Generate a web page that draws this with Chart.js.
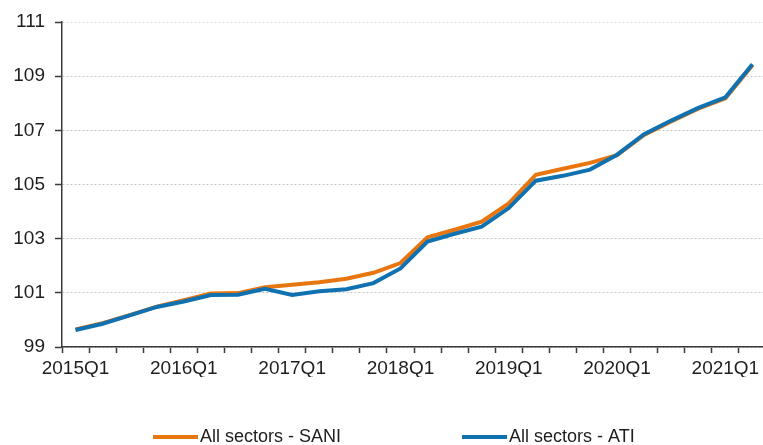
<!DOCTYPE html>
<html>
<head>
<meta charset="utf-8">
<script src="https://cdn.jsdelivr.net/npm/chart.js@4/dist/chart.umd.min.js"></script>
<style>
    html, body { margin: 0; padding: 0; background: #fff; overflow: hidden; }
    #wrap { width: 770px; height: 445px; }
</style>
</head>
<body>
<div id="wrap"><canvas id="indexChart" width="770" height="445"></canvas></div>
<script>
// quarters 2015Q1 .. 2021Q2
const quarters = [
    '2015Q1', '2015Q2', '2015Q3', '2015Q4',
    '2016Q1', '2016Q2', '2016Q3', '2016Q4',
    '2017Q1', '2017Q2', '2017Q3', '2017Q4',
    '2018Q1', '2018Q2', '2018Q3', '2018Q4',
    '2019Q1', '2019Q2', '2019Q3', '2019Q4',
    '2020Q1', '2020Q2', '2020Q3', '2020Q4',
    '2021Q1', '2021Q2'
];

const sani = [
    99.65, 99.88, 100.18, 100.49,
    100.73, 100.98, 100.99, 101.21,
    101.30, 101.39, 101.52, 101.74,
    102.10, 103.05, 103.33, 103.63,
    104.30, 105.36, 105.58, 105.80,
    106.08, 106.83, 107.33, 107.80,
    108.18, 109.40
];

const ati = [
    99.63, 99.86, 100.17, 100.48,
    100.68, 100.92, 100.93, 101.15,
    100.92, 101.06, 101.13, 101.36,
    101.90, 102.89, 103.18, 103.44,
    104.13, 105.14, 105.32, 105.55,
    106.10, 106.86, 107.36, 107.83,
    108.22, 109.44
];

const seriesNames = ['All sectors - SANI', 'All sectors - ATI'];
const yTicks = [99, 101, 103, 105, 107, 109, 111];

const textColor = '#1e1e1e';
const fontFamily = '"Liberation Sans", Arial, sans-serif';

// legend drawn under the plot, items placed like the original
const bottomLegend = {
    id: 'bottomLegend',
    afterDraw(chart) {
        const ctx = chart.ctx;
        const spots = [153, 462];
        const y = 437;
        ctx.save();
        ctx.font = '18px ' + fontFamily;
        ctx.textBaseline = 'middle';
        ctx.textAlign = 'left';
        chart.data.datasets.forEach((ds, i) => {
            const x = spots[i];
            ctx.strokeStyle = ds.borderColor;
            ctx.lineWidth = 4;
            ctx.beginPath();
            ctx.moveTo(x, y);
            ctx.lineTo(x + 45, y);
            ctx.stroke();
            ctx.fillStyle = textColor;
            ctx.fillText(ds.label, x + 47, y);
        });
        ctx.restore();
    }
};

const ctx = document.getElementById('indexChart').getContext('2d');

new Chart(ctx, {
    type: 'line',
    data: {
        labels: quarters,
        datasets: [{
            label: seriesNames[0],
            data: sani,
            borderColor: '#E8760F',
            backgroundColor: '#E8760F',
            borderWidth: 4,
            pointRadius: 0,
            tension: 0,
            order: 2
        }, {
            label: seriesNames[1],
            data: ati,
            borderColor: '#1071B0',
            backgroundColor: '#1071B0',
            borderWidth: 4,
            pointRadius: 0,
            tension: 0,
            order: 1
        }]
    },
    options: {
        responsive: false,
        animation: false,
        devicePixelRatio: 1,
        layout: {
            padding: { top: 22, right: 4, bottom: 68, left: 0 }
        },
        plugins: {
            legend: { display: false },
            tooltip: { enabled: false },
            title: { display: false }
        },
        scales: {
            x: {
                offset: true,
                grid: {
                    offset: true,
                    drawOnChartArea: false,
                    drawTicks: true,
                    tickLength: 6,
                    tickColor: '#3a3a3a',
                    tickWidth: 1.5
                },
                border: { color: '#3a3a3a', width: 1.5 },
                ticks: {
                    autoSkip: false,
                    maxRotation: 0,
                    minRotation: 0,
                    padding: 4,
                    color: textColor,
                    font: { family: fontFamily, size: 19 },
                    callback: (val, i) => (i % 4 === 0 ? quarters[i] : '')
                },
                afterFit: (scale) => { scale.height = 30; }
            },
            y: {
                min: yTicks[0],
                max: yTicks[yTicks.length - 1],
                afterBuildTicks: (scale) => {
                    scale.ticks = yTicks.map(v => ({ value: v }));
                },
                grid: {
                    color: (c) => (c.tick && c.tick.value === 111 ? '#dcdcdc' : '#c4c4c4'),
                    lineWidth: 1,
                    drawTicks: true,
                    tickLength: 7,
                    tickColor: '#3a3a3a',
                    tickWidth: 1.5
                },
                border: { color: '#3a3a3a', width: 1.5, dash: [2, 2] },
                ticks: {
                    padding: 10,
                    color: textColor,
                    font: { family: fontFamily, size: 19 }
                },
                afterFit: (scale) => { scale.width = 62; }
            }
        }
    },
    plugins: [bottomLegend]
});
</script>
</body>
</html>
